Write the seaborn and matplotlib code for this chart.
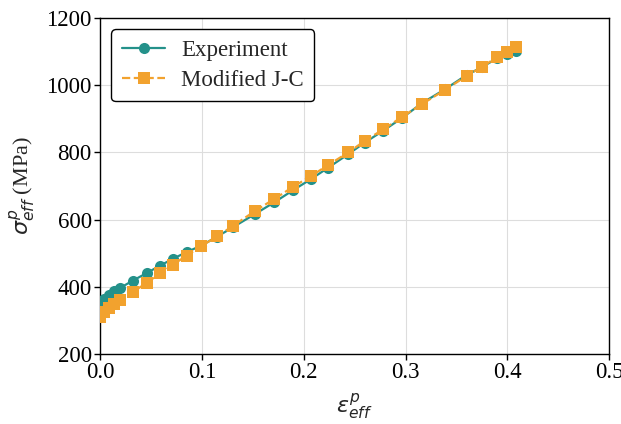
import matplotlib
matplotlib.use("Agg")
import matplotlib.pyplot as plt
import seaborn as sns
import pandas as pd

# Data
x_exp = [0.0, 0.004, 0.009, 0.014, 0.020, 0.032, 0.046, 0.059, 0.072, 0.085, 0.099,
         0.115, 0.131, 0.152, 0.171, 0.190, 0.207, 0.224, 0.244, 0.260, 0.278, 0.297,
         0.316, 0.339, 0.360, 0.375, 0.390, 0.400, 0.408]
y_exp = [348, 364, 377, 387, 397, 418, 441, 463, 484, 503, 522,
         549, 578, 616, 651, 688, 720, 754, 795, 829, 864, 903,
         946, 988, 1030, 1053, 1080, 1092, 1100]

x_jc = [0.0, 0.004, 0.009, 0.014, 0.020, 0.032, 0.046, 0.059, 0.072, 0.085, 0.099,
        0.115, 0.131, 0.152, 0.171, 0.190, 0.207, 0.224, 0.244, 0.260, 0.278, 0.297,
        0.316, 0.339, 0.360, 0.375, 0.390, 0.400, 0.408]
y_jc = [310, 325, 338, 350, 362, 384, 412, 440, 466, 493, 520,
        550, 582, 625, 661, 698, 729, 762, 800, 834, 868, 906,
        943, 986, 1027, 1054, 1083, 1099, 1113]

series_names = ["Experiment", "Modified J-C"]
colors = ["#24918a", "#f2a22e"]

sns.set_theme(style="whitegrid")
plt.rcParams["font.family"] = ["Liberation Serif", "DejaVu Serif"]
plt.rcParams["mathtext.fontset"] = "dejavusans"

fig = plt.figure(figsize=(6.21, 4.24), dpi=100)
ax = fig.add_axes([0.161, 0.165, 0.820, 0.793])

df_exp = pd.DataFrame({"x": x_exp, "y": y_exp})
df_jc = pd.DataFrame({"x": x_jc, "y": y_jc})

sns.lineplot(data=df_exp, x="x", y="y", ax=ax, color=colors[0], marker="o",
             markersize=8, markeredgewidth=0, linewidth=1.6, label=series_names[0],
             sort=False, zorder=3)
sns.lineplot(data=df_jc, x="x", y="y", ax=ax, color=colors[1], marker="s",
             markersize=8, markeredgewidth=0, linewidth=1.6, linestyle="--",
             label=series_names[1], sort=False, zorder=4)

ax.set_xlim(0, 0.5)
ax.set_ylim(200, 1200)
ax.set_xticks([0.0, 0.1, 0.2, 0.3, 0.4, 0.5])
ax.set_xticklabels(["0.0", "0.1", "0.2", "0.3", "0.4", "0.5"])
ax.set_yticks([200, 400, 600, 800, 1000, 1200])

ax.set_xlabel(r"$\varepsilon^{p}_{eff}$", fontsize=16, labelpad=6)
ax.set_ylabel(r"$\sigma^{p}_{eff}$ (MPa)", fontsize=16, labelpad=6)

ax.set_facecolor("white")
ax.grid(True, color="#dddddd", linewidth=0.8)
for s in ax.spines.values():
    s.set_color("black")
    s.set_linewidth(1.0)
ax.tick_params(axis="both", which="both", labelsize=16.5, colors="black",
               direction="out", length=4, width=1, left=True, bottom=True, pad=2)

leg = ax.legend(loc="upper left", fontsize=16.5, frameon=True, fancybox=True,
                edgecolor="black", framealpha=1, handlelength=1.9,
                borderpad=0.45, labelspacing=0.4, handletextpad=0.7)
leg.get_frame().set_linewidth(1.0)

fig.savefig("out.png", dpi=100)
